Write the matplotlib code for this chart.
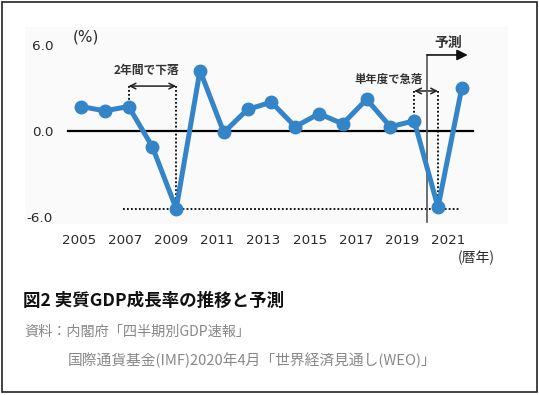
import matplotlib
matplotlib.use("Agg")
import matplotlib.pyplot as plt
from matplotlib.patches import Rectangle

JP = ["Noto Sans CJK JP", "DejaVu Sans"]

# 実質GDP成長率 (%), 2020-2021 は IMF 予測
years = [2005, 2006, 2007, 2008, 2009, 2010, 2011, 2012, 2013,
         2014, 2015, 2016, 2017, 2018, 2019, 2020, 2021]
growth = [1.7, 1.4, 1.7, -1.1, -5.4, 4.2, -0.1, 1.5, 2.0,
          0.3, 1.2, 0.5, 2.2, 0.3, 0.7, -5.3, 3.0]
tick_years = list(range(2005, 2022, 2))
ytick_vals = [6.0, 0.0, -6.0]
low_level = -5.4

W, H = 539, 395
fig = plt.figure(figsize=(W / 100, H / 100), dpi=100)


def fig_box(left, top, right, bottom):
    # pixel box -> figure fraction [l, b, w, h]
    return [left / W, 1 - bottom / H, (right - left) / W, (bottom - top) / H]


# faint chart background + outer frame
fig.patches.append(Rectangle((25 / W, 1 - 224 / H), (508 - 25) / W, (224 - 27) / H,
                             transform=fig.transFigure, facecolor="#fafafa",
                             edgecolor="none", zorder=0))
fig.patches.append(Rectangle((2 / W, 1 - 392 / H), (537 - 2) / W, (392 - 2) / H,
                             transform=fig.transFigure, facecolor="none",
                             edgecolor="#222222", lw=1.2, zorder=5))

ax = fig.add_axes(fig_box(60, 25, 480, 228))
ax.set_zorder(2)
ax.patch.set_alpha(0)
px_per_year = 23.8
px_per_unit = 14.4
ax.set_xlim(2005 - 21 / px_per_year, 2005 + 399 / px_per_year)
ax.set_ylim((131 - 228) / px_per_unit, (131 - 25) / px_per_unit)
for s in ax.spines.values():
    s.set_visible(False)

# tick labels sit slightly left of the points in the original
ax.set_xticks([2005 + (y - 2005) * 0.969 - 0.08 for y in tick_years])
ax.set_xticklabels([str(y) for y in tick_years])
ax.set_yticks(ytick_vals)
ax.set_yticklabels(["%.1f" % v for v in ytick_vals])
ax.tick_params(length=0, labelsize=9.7, labelcolor="#2a2a2a")
ax.tick_params(axis="x", pad=4)
ax.tick_params(axis="y", pad=5)

# zero line and low-level dotted line
ax.plot([2004.45, 2021.47], [0, 0], color="black", lw=1.6, zorder=2)
ax.plot([2006.76, 2020.9], [low_level, low_level], color="black", lw=1.3,
        ls=(0, (1, 1.2)), zorder=2)

# series
ax.plot(years, growth, color="#3484c8", lw=3.6, marker="o", markersize=9,
        zorder=4, solid_joinstyle="round")

dot = dict(color="black", lw=1.3, ls=(0, (1, 1.2)), zorder=3)
# 2年間で下落
a1 = 3.12
ax.plot([2007, 2007], [a1, growth[2]], **dot)
ax.plot([2009, 2009], [a1, low_level], **dot)
ax.annotate("", xy=(2009, a1), xytext=(2007, a1),
            arrowprops=dict(arrowstyle="<->", color="#222222", lw=1.1,
                            shrinkA=0, shrinkB=0))
ax.text(2007.73, 4.17, "2年間で下落", family=JP, fontsize=8.5, weight="bold",
        color="#333333", ha="center", va="center")

# 単年度で急落
a2 = 2.78
ax.plot([2019, 2019], [a2, growth[14]], **dot)
ax.plot([2020, 2020], [a2, low_level], **dot)
ax.annotate("", xy=(2020, a2), xytext=(2019, a2),
            arrowprops=dict(arrowstyle="<->", color="#222222", lw=1.1,
                            shrinkA=0, shrinkB=0))
ax.text(2017.94, 3.61, "単年度で急落", family=JP, fontsize=8.2, weight="bold",
        color="#333333", ha="center", va="center")

# 予測
ax.plot([2019.54, 2019.54], [-6.32, 5.28], color="#555555", lw=1.2, zorder=3)
ax.annotate("", xy=(2021.25, 5.28), xytext=(2019.54, 5.28),
            arrowprops=dict(arrowstyle="-|>", color="#111111", lw=1.2,
                            mutation_scale=16, shrinkA=0, shrinkB=0))
ax.text(2020.42, 6.11, "予測", family=JP, fontsize=10, weight="bold",
        color="#333333", ha="center", va="center")

ax.text(2005.2, 6.5, "(%)", family=["DejaVu Sans"], fontsize=11,
        color="#2a2a2a", ha="center", va="center")
ax.text(2021.6, (131 - 258) / px_per_unit, "(暦年)", family=JP, fontsize=10,
        color="#2a2a2a", ha="center", va="center")

# title and source
fig.text(23 / W, 1 - 301 / H, "図2 実質GDP成長率の推移と予測", family=JP,
         fontsize=12.6, weight="bold", color="#111111", ha="left", va="center")
fig.text(24 / W, 1 - 332 / H, "資料：内閣府「四半期別GDP速報」", family=JP,
         fontsize=10.2, color="#888888", ha="left", va="center")
fig.text(68 / W, 1 - 360 / H, "国際通貨基金(IMF)2020年4月「世界経済見通し(WEO)」",
         family=JP, fontsize=10.6, color="#888888", ha="left", va="center")

fig.savefig("out.png", dpi=100)
